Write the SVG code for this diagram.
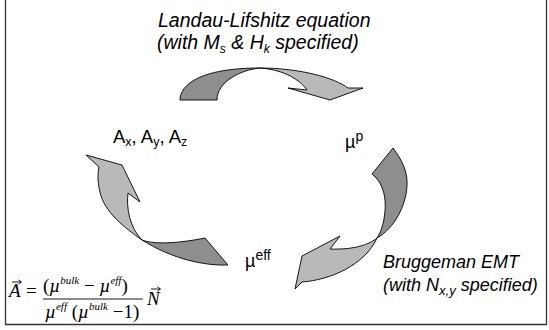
<svg xmlns="http://www.w3.org/2000/svg" width="549" height="330" viewBox="0 0 549 330">
<style>
.lbl{font-family:"Liberation Sans",Arial,sans-serif;fill:#000}
.it{font-style:italic}
.math{font-family:"Liberation Serif","Times New Roman",serif;font-style:italic;fill:#000}
.dark{fill:#8e8e8e;stroke:#000;stroke-width:0.9;stroke-linejoin:round}
.light{fill:#b9b9b9;stroke:#000;stroke-width:0.9;stroke-linejoin:round}
</style>
<rect width="549" height="330" fill="#fff"/>
<path d="M5.5,-2 V324.5 H546.5 V-2" fill="none" stroke="#333" stroke-width="1.3"/>

<g id="connectors">
  <g id="arrow-top">
    <path class="dark" d="M180,100 C180,85 200,68 260,68 C240,70 217,82 217,100 Z"/>
    <path class="light" d="M260,68 C300,68 335,78 348,88 L363,88 L330,100 L288,88 L307,90 C300,80 285,70 260,68 Z"/>
  </g>
  <g id="arrow-right">
    <path class="dark" d="M393,148 C402,160 408,172 407,186 C406,205 395,228 377,238 C384,228 386,210 385,200 C384,190 380,180 372,174 Z"/>
    <path class="light" d="M377,238 C370,244 355,250 330,249 L340,236 L302,256 L295,289 L302,282 C330,280 365,265 377,238 Z"/>
  </g>
  <g id="arrow-left">
    <path class="light" d="M86,155 L122,165 L140,202 L128,193 C126,208 130,228 142,240 C125,228 104,212 100,192 C97,180 98,172 99,167 Z"/>
    <path class="dark" d="M142,240 C155,245 180,243 205,238 L228,265 C205,266 172,259 142,240 Z"/>
  </g>
</g>

<g id="node-ll">
  <text class="lbl it" x="158" y="27" font-size="19.5">Landau-Lifshitz equation</text>
  <text class="lbl it" x="157" y="49" font-size="19.5">(with M<tspan font-size="12" dy="4">s</tspan><tspan dy="-4"> &amp; H</tspan><tspan font-size="12" dy="4">k</tspan><tspan dy="-4"> specified)</tspan></text>
</g>

<g id="node-a">
  <text class="lbl" x="113" y="143" font-size="18.5">A<tspan font-size="12.5" dy="3">x</tspan><tspan dy="-3">, A</tspan><tspan font-size="12.5" dy="3">y</tspan><tspan dy="-3">, A</tspan><tspan font-size="12.5" dy="3">z</tspan></text>
</g>

<g id="node-mup">
  <text class="lbl" x="345" y="148" font-size="18">µ<tspan font-size="14" dy="-7">p</tspan></text>
</g>

<g id="node-mueff">
  <text class="lbl" x="245" y="267" font-size="18">µ<tspan font-size="14" dy="-7">eff</tspan></text>
</g>

<g id="node-bem">
  <text class="lbl it" x="383" y="268" font-size="18">Bruggeman EMT</text>
  <text class="lbl it" x="383" y="291" font-size="18">(with N<tspan font-size="13" dy="4">x,y</tspan><tspan dy="-4"> specified)</tspan></text>
</g>

<g id="formula">
  <text class="math" x="9" y="297" font-size="19">A</text>
  <path d="M12,282 H21 M18.5,280 L21.5,282 L18.5,284" fill="none" stroke="#000" stroke-width="0.9"/>
  <text x="26" y="297" font-size="19" font-family="Liberation Serif,serif">=</text>
  <text class="math" x="43" y="292" font-size="19"><tspan font-style="normal">(</tspan>µ<tspan font-size="11" dy="-8">bulk</tspan><tspan dy="8" font-style="normal"> − </tspan>µ<tspan font-size="11" dy="-8">eff</tspan><tspan dy="8" font-style="normal">)</tspan></text>
  <line x1="43" y1="299" x2="143" y2="299" stroke="#000" stroke-width="0.9"/>
  <text class="math" x="45" y="318" font-size="19">µ<tspan font-size="11" dy="-8">eff</tspan><tspan dy="8" font-style="normal"> (</tspan>µ<tspan font-size="11" dy="-8">bulk</tspan><tspan dy="8" font-style="normal"> −1)</tspan></text>
  <text class="math" x="147" y="305" font-size="19">N</text>
  <path d="M151,289 H160 M157.5,287 L160.5,289 L157.5,291" fill="none" stroke="#000" stroke-width="0.9"/>
</g>
</svg>
